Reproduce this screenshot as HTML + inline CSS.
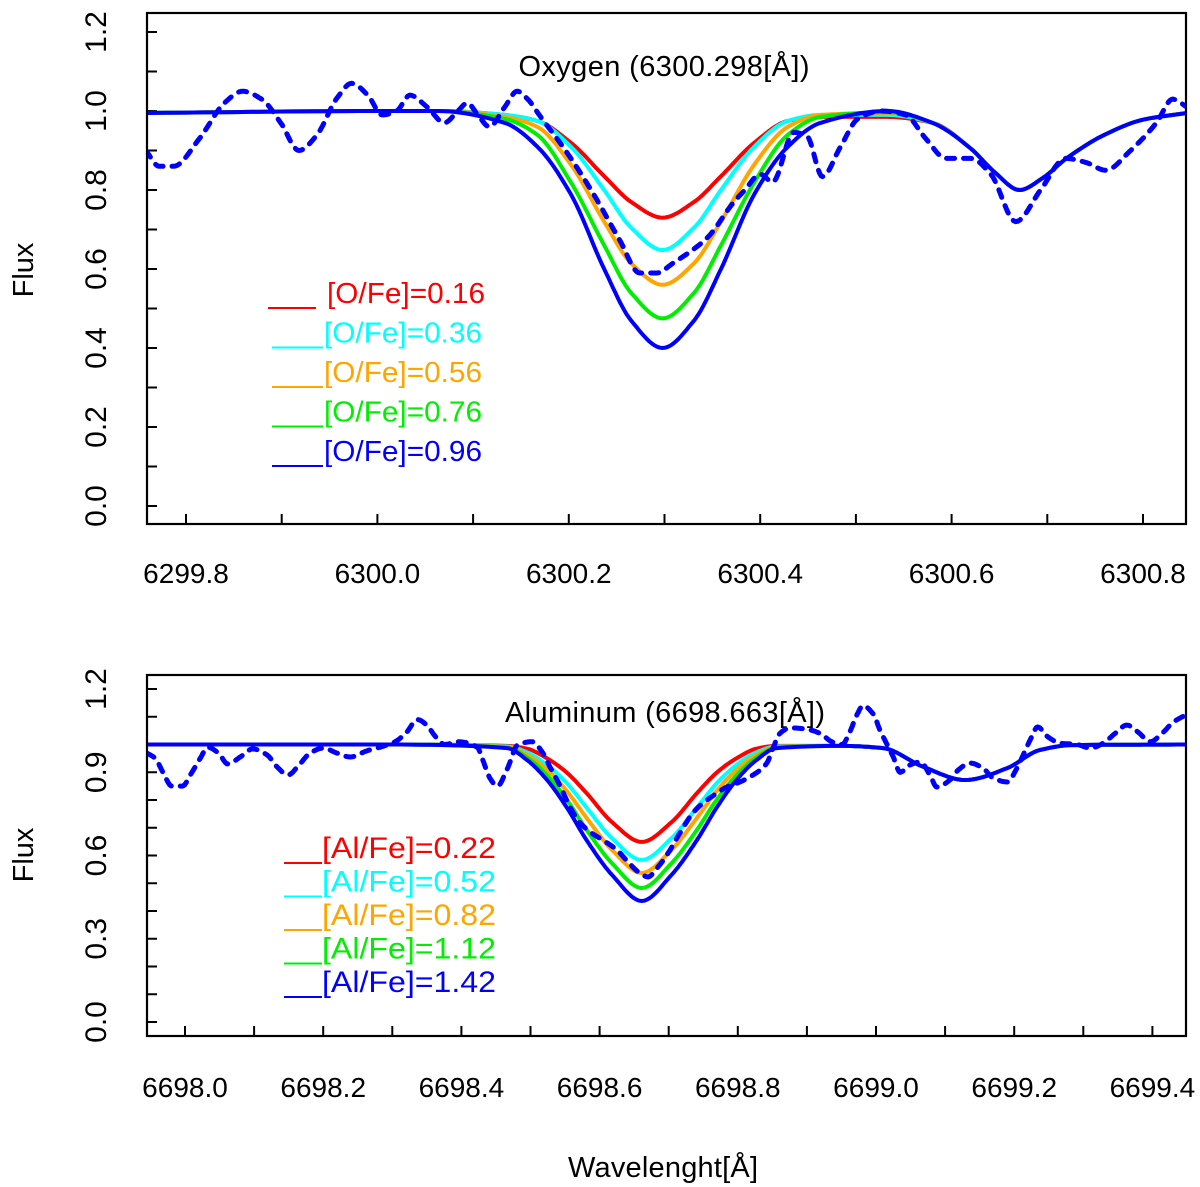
<!DOCTYPE html>
<html><head><meta charset="utf-8"><style>
html,body{margin:0;padding:0;background:#fff}
svg{display:block;font-family:"Liberation Sans",Arial,sans-serif}
</style></head><body>
<svg id="chart" width="1200" height="1187" viewBox="0 0 1200 1187" xmlns="http://www.w3.org/2000/svg">
<defs>
<clipPath id="clipTop"><rect x="148" y="14" width="1037" height="509"/></clipPath>
<clipPath id="clipBot"><rect x="148" y="676" width="1037" height="359"/></clipPath>
</defs>
<g id="top"></g>
<g id="bot"></g>
<text x="663" y="1177" font-size="29" text-anchor="middle" textLength="190">Wavelenght[Å]</text>
</svg>
<script>
// ---------- Oxygen panel data ----------
const oxWave = [6299.758, 6300.0, 6300.063, 6300.133, 6300.167, 6300.202, 6300.237, 6300.265, 6300.298, 6300.331, 6300.359, 6300.394, 6300.429, 6300.463, 6300.533, 6300.58, 6300.62, 6300.645, 6300.671, 6300.695, 6300.72, 6300.76, 6300.8, 6300.846];
const oxRed    = [.995,1,1,.99,.975,.92,.835,.77,.73,.77,.835,.92,.975,.985,.985,.97,.905,.845,.80,.83,.88,.94,.978,.995];
const oxCyan   = [.995,1,1,.99,.975,.91,.80,.705,.648,.705,.80,.91,.975,.99,.99,.97,.905,.845,.80,.83,.88,.94,.978,.995];
const oxOrange = [.995,1,1,.985,.96,.865,.72,.615,.56,.615,.72,.865,.96,.99,.995,.97,.905,.845,.80,.83,.88,.94,.978,.995];
const oxGreen  = [.995,1,1,.98,.94,.82,.66,.54,.475,.54,.66,.82,.94,.985,.997,.97,.905,.845,.80,.83,.88,.94,.978,.995];
const oxBlue   = [.995,1,1,.97,.91,.79,.60,.47,.40,.47,.60,.79,.91,.97,1.0,.97,.905,.845,.80,.83,.88,.94,.978,.995];
const oxObsWave = [6299.758,6299.772,6299.787,6299.814,6299.840,6299.859,6299.879,6299.899,6299.918,6299.937,6299.957,6299.973,6299.990,6300.005,6300.020,6300.034,6300.052,6300.070,6300.084,6300.094,6300.105,6300.117,6300.133,6300.146,6300.157,6300.170,6300.198,6300.225,6300.253,6300.274,6300.292,6300.309,6300.345,6300.372,6300.384,6300.400,6300.413,6300.435,6300.449,6300.465,6300.484,6300.502,6300.526,6300.552,6300.573,6300.594,6300.620,6300.641,6300.667,6300.693,6300.719,6300.740,6300.761,6300.787,6300.814,6300.831,6300.846];
const oxObsFlux = [.90,.86,.86,.93,1.02,1.05,1.03,.97,.90,.94,1.03,1.07,1.04,.99,1.0,1.04,1.01,.97,1.0,1.02,.99,.96,1.01,1.05,1.03,.987,.895,.793,.674,.59,.59,.615,.68,.768,.80,.84,.82,.946,.936,.834,.91,.98,1.0,.99,.93,.88,.88,.84,.72,.80,.88,.87,.85,.90,.97,1.03,1.01];
const oxLabels = ["[O/Fe]=0.16","[O/Fe]=0.36","[O/Fe]=0.56","[O/Fe]=0.76","[O/Fe]=0.96"];
const oxXTicks = [6299.8,6300.0,6300.2,6300.4,6300.6,6300.8];
const oxXTickLabels = ["6299.8","6300.0","6300.2","6300.4","6300.6","6300.8"];
const oxYTicks = [0.0,0.2,0.4,0.6,0.8,1.0,1.2];
const oxYTickLabels = ["0.0","0.2","0.4","0.6","0.8","1.0","1.2"];

// ---------- Aluminum panel data ----------
const alWave = [6697.945, 6698.3, 6698.466, 6698.495, 6698.524, 6698.552, 6698.581, 6698.618, 6698.661, 6698.704, 6698.741, 6698.770, 6698.798, 6698.827, 6698.856, 6698.95, 6699.01, 6699.068, 6699.129, 6699.19, 6699.237, 6699.285, 6699.449];
const alRed    = [1,1,.995,.985,.95,.90,.825,.72,.649,.72,.825,.90,.95,.985,.995,.995,.987,.92,.872,.915,.98,.998,1];
const alCyan   = [1,1,.993,.972,.926,.862,.773,.662,.584,.662,.773,.862,.926,.972,.993,.995,.987,.92,.872,.915,.98,.998,1];
const alOrange = [1,1,.991,.963,.909,.834,.736,.62,.537,.62,.736,.834,.909,.963,.991,.995,.987,.92,.872,.915,.98,.998,1];
const alGreen  = [1,1,.989,.953,.889,.803,.693,.572,.483,.572,.693,.803,.889,.953,.989,.995,.987,.92,.872,.915,.98,.998,1];
const alBlue   = [1,1,.987,.944,.872,.775,.656,.53,.436,.53,.656,.775,.872,.944,.987,.995,.987,.92,.872,.915,.98,.998,1];
const alObsWave = [6697.945,6697.957,6697.968,6697.981,6697.996,6698.010,6698.022,6698.033,6698.048,6698.062,6698.080,6698.098,6698.119,6698.133,6698.149,6698.165,6698.181,6698.200,6698.220,6698.239,6698.263,6698.282,6698.304,6698.321,6698.336,6698.350,6698.362,6698.376,6698.395,6698.423,6698.431,6698.441,6698.452,6698.466,6698.482,6698.502,6698.517,6698.528,6698.543,6698.557,6698.572,6698.589,6698.605,6698.625,6698.641,6698.658,6698.670,6698.685,6698.702,6698.716,6698.735,6698.750,6698.770,6698.784,6698.803,6698.822,6698.842,6698.851,6698.861,6698.876,6698.900,6698.919,6698.936,6698.951,6698.962,6698.973,6698.981,6698.996,6699.006,6699.016,6699.025,6699.035,6699.049,6699.064,6699.078,6699.088,6699.107,6699.119,6699.136,6699.155,6699.169,6699.190,6699.204,6699.213,6699.223,6699.234,6699.249,6699.266,6699.291,6699.310,6699.329,6699.346,6699.363,6699.379,6699.397,6699.414,6699.430,6699.447];
const alObsFlux = [.969,.95,.90,.85,.85,.90,.95,.99,.97,.93,.955,.984,.962,.92,.89,.926,.969,.987,.969,.955,.977,.99,1.01,1.045,1.09,1.07,1.03,1.0,1.01,.99,.944,.88,.85,.91,1.0,1.01,.973,.92,.85,.775,.717,.68,.655,.62,.577,.537,.523,.56,.62,.68,.753,.79,.825,.847,.865,.89,.933,.987,1.04,1.06,1.055,1.04,1.01,1.0,1.045,1.11,1.14,1.11,1.05,1.0,.955,.90,.926,.937,.89,.847,.872,.908,.933,.915,.88,.865,.915,.962,1.016,1.063,1.027,1.005,1.0,.987,1.005,1.04,1.07,1.045,1.01,1.04,1.08,1.105];
const alLabels = ["[Al/Fe]=0.22","[Al/Fe]=0.52","[Al/Fe]=0.82","[Al/Fe]=1.12","[Al/Fe]=1.42"];
const alXTicks = [6698.0,6698.2,6698.4,6698.6,6698.8,6699.0,6699.2,6699.4];
const alXTickLabels = ["6698.0","6698.2","6698.4","6698.6","6698.8","6699.0","6699.2","6699.4"];
const alYTicks = [0.0,0.3,0.6,0.9,1.2];
const alYTickLabels = ["0.0","0.3","0.6","0.9","1.2"];

const NS = "http://www.w3.org/2000/svg";
const colors = ["#ff0000","#00ffff","#ffa500","#00ee00","#0000ff"];

function mk(tag, attrs, parent){
  const e = document.createElementNS(NS, tag);
  for (const k in attrs) e.setAttribute(k, attrs[k]);
  parent.appendChild(e);
  return e;
}
function monotonePath(xsArr, ysArr, xs, ys){
  const n = xsArr.length, h = [], d = [], m = new Array(n);
  for (let i = 0; i < n-1; i++){ h[i] = xsArr[i+1]-xsArr[i]; d[i] = (ysArr[i+1]-ysArr[i])/h[i]; }
  m[0] = d[0]; m[n-1] = d[n-2];
  for (let i = 1; i < n-1; i++){
    if (d[i-1]*d[i] <= 0) m[i] = 0;
    else { const w1 = 2*h[i]+h[i-1], w2 = h[i]+2*h[i-1]; m[i] = (w1+w2)/(w1/d[i-1]+w2/d[i]); }
  }
  let s = "";
  for (let i = 0; i < n-1; i++){
    const steps = 12;
    for (let k = (i===0?0:1); k <= steps; k++){
      const t = k/steps, t2 = t*t, t3 = t2*t;
      const v = (2*t3-3*t2+1)*ysArr[i] + (t3-2*t2+t)*h[i]*m[i] + (-2*t3+3*t2)*ysArr[i+1] + (t3-t2)*h[i]*m[i+1];
      const xv = xsArr[i] + t*h[i];
      s += (s ? "L" : "M") + xs(xv).toFixed(1) + "," + ys(v).toFixed(1);
    }
  }
  return s;
}

function drawPanel(g, cfg){
  const {x0,x1,y0,y1,xs,ys,clip} = cfg;
  const frame = mk("rect",{x:x0,y:y0,width:x1-x0,height:y1-y0,fill:"none",stroke:"#000","stroke-width":2.2},g);
  
  
  const xt0 = cfg.xTicks[0], xtN = cfg.xTicks[cfg.xTicks.length-1];
  for (let k = 0; k <= Math.round((xtN - xt0)/0.1); k++){
    const x = xs(xt0 + k*0.1);
    const t = mk("line",{x1:x,x2:x,y1:y1,y2:y1-10,stroke:"#000","stroke-width":2},g);
    
    
  }
  cfg.xTicks.forEach((v,i)=>{
    const t = mk("text",{x:xs(v),y:cfg.xLabelY,"font-size":28,"text-anchor":"middle"},g);
    t.textContent = cfg.xTickLabels[i];
    
    
  });
  for (let k = 0; k <= 12; k++){
    const y = ys(k*0.1);
    const t = mk("line",{x1:x0,x2:x0+10,y1:y,y2:y,stroke:"#000","stroke-width":2},g);
    
    
  }
  cfg.yTicks.forEach((v,i)=>{
    const t = mk("text",{transform:"translate(106,"+ys(v).toFixed(1)+") rotate(-90)","font-size":30,"text-anchor":"middle"},g);
    t.textContent = cfg.yTickLabels[i];
    
    
  });
  const yl = mk("text",{transform:"translate(33,"+cfg.fluxY+") rotate(-90)","font-size":29,"text-anchor":"middle"},g);
  yl.textContent = "Flux";
  
  
  const ti = mk("text",{x:cfg.titleX,y:cfg.titleY,"font-size":29,"text-anchor":"middle",textLength:cfg.titleW},g);
  ti.textContent = cfg.title;
  
  
  const cg = mk("g",{"clip-path":"url(#"+clip+")"},g);
  
  
  cfg.series.forEach((s,i)=>{
    const p = mk("path",{d:monotonePath(cfg.wave, s, xs, ys),fill:"none",stroke:colors[i],"stroke-width":4,"stroke-linejoin":"round"},cg);
    
    
  });
  const ob = mk("path",{d:monotonePath(cfg.obsWave, cfg.obsFlux, xs, ys),fill:"none",stroke:"#0000ff","stroke-width":5,"stroke-dasharray":"8 9","stroke-linecap":"round"},cg);
  
  
  cfg.labels.forEach((lab,i)=>{
    const y = cfg.legY + i*cfg.legDy;
    const lx0 = (i===0 ? cfg.lineX0first : cfg.lineX0), lx1 = (i===0 ? cfg.lineX1first : cfg.lineX1);
    const ln = mk("line",{x1:lx0,x2:lx1,y1:y+5,y2:y+5,stroke:colors[i],"stroke-width":2},g);
    
    
    const t = mk("text",{x:(i===0?cfg.textXfirst:cfg.textX),y:y,"font-size":cfg.legFont,fill:colors[i],textLength:cfg.legW,lengthAdjust:"spacingAndGlyphs"},g);
    t.textContent = lab;
    
    
  });
}

drawPanel(document.getElementById("top"),{
  prefix:"oxygen", x0:147,x1:1186,y0:13,y1:524, clip:"clipTop",
  xs:l=>186+(l-6299.8)*957, ys:v=>506-v*395,
  xTicks:oxXTicks, xTickLabels:oxXTickLabels, yTicks:oxYTicks, yTickLabels:oxYTickLabels,
  xLabelY:583, fluxY:270, title:"Oxygen (6300.298[Å])", titleX:664, titleY:76, titleW:291,
  wave:oxWave, series:[oxRed,oxCyan,oxOrange,oxGreen,oxBlue],
  obsWave:oxObsWave, obsFlux:oxObsFlux,
  labels:oxLabels, legY:303, legDy:39.5, legFont:29, legW:158,
  lineX0first:268, lineX1first:316, lineX0:272, lineX1:323, textXfirst:327, textX:324
});
drawPanel(document.getElementById("bot"),{
  prefix:"aluminum", x0:147,x1:1186,y0:675,y1:1036, clip:"clipBot",
  xs:l=>185+(l-6698)*691, ys:v=>1022-v*277.5,
  xTicks:alXTicks, xTickLabels:alXTickLabels, yTicks:alYTicks, yTickLabels:alYTickLabels,
  xLabelY:1097, fluxY:855, title:"Aluminum (6698.663[Å])", titleX:665, titleY:722, titleW:320,
  wave:alWave, series:[alRed,alCyan,alOrange,alGreen,alBlue],
  obsWave:alObsWave, obsFlux:alObsFlux,
  labels:alLabels, legY:858, legDy:33.5, legFont:30, legW:174,
  lineX0first:284, lineX1first:322, lineX0:284, lineX1:322, textXfirst:322, textX:322
});
</script>
</body></html>
